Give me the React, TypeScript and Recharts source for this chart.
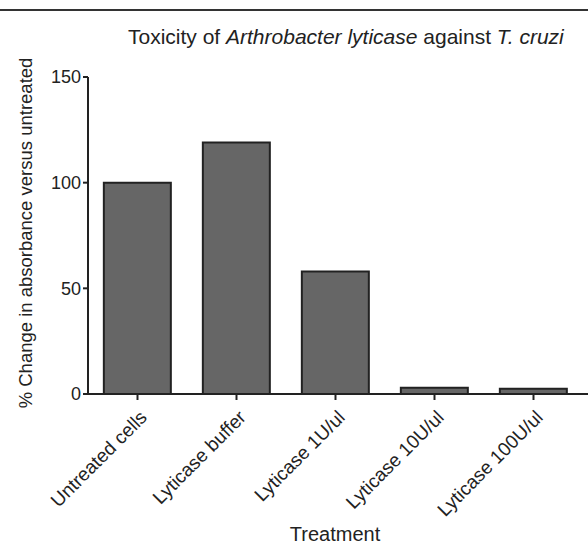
import React from 'react';
import { BarChart, Bar, XAxis, YAxis, Label } from 'recharts';

const treatments = [
  'Untreated cells',
  'Lyticase buffer',
  'Lyticase 1U/ul',
  'Lyticase 10U/ul',
  'Lyticase 100U/ul',
];
const changeValues = [100, 119, 58, 3, 2.5];
const yTicks = [0, 50, 100, 150];

const data = treatments.map((name, i) => ({ name, value: changeValues[i] }));

const FONT = '"Liberation Sans", Arial, Helvetica, sans-serif';
const INK = '#222';

const RotatedTick = (props: any) => {
  const { x, y, payload } = props;
  return (
    <g transform={`translate(${x + 6},${y + 12})`}>
      <text
        transform="rotate(-45)"
        textAnchor="end"
        dominantBaseline="central"
        fontFamily={FONT}
        fontSize={19}
        fill={INK}
      >
        {payload.value}
      </text>
    </g>
  );
};

const App: React.FC = () => {
  return (
    <div style={{ position: 'absolute', left: 0, top: 0, width: 588, height: 544, background: '#fff' }}>
      <div style={{ position: 'absolute', left: 0, top: 9, width: 588, height: 2, background: '#333' }} />
      <svg style={{ position: 'absolute', left: 0, top: 0 }} width={588} height={60}>
        <text x={128} y={44} fontFamily={FONT} fontSize={21} fill={INK}>
          Toxicity of <tspan fontStyle="italic">Arthrobacter lyticase</tspan> against{' '}
          <tspan fontStyle="italic">T. cruzi</tspan>
        </text>
      </svg>
      <BarChart
        width={588}
        height={544}
        data={data}
        margin={{ top: 77, right: 0, bottom: 0, left: 0 }}
        barCategoryGap="16%"
        style={{ position: 'absolute', left: 0, top: 0 }}
      >
        <XAxis
          dataKey="name"
          interval={0}
          padding={{ left: 0, right: 5 }}
          axisLine={{ stroke: INK, strokeWidth: 2 }}
          tickLine={{ stroke: INK, strokeWidth: 2 }}
          tickSize={6}
          tick={<RotatedTick />}
          height={150}
        >
          <Label
            content={() => (
              <text x={335} y={541} textAnchor="middle" fontFamily={FONT} fontSize={20} fill={INK}>
                Treatment
              </text>
            )}
          />
        </XAxis>
        <YAxis
          domain={[0, 150]}
          ticks={yTicks}
          width={88}
          axisLine={{ stroke: INK, strokeWidth: 2 }}
          tickLine={{ stroke: INK, strokeWidth: 2 }}
          tickSize={5}
          tick={{ fontFamily: FONT, fontSize: 18, fill: INK }}
        >
          <Label
            content={() => (
              <text
                x={32}
                y={233}
                transform="rotate(-90, 32, 233)"
                textAnchor="middle"
                fontFamily={FONT}
                fontSize={18.5}
                fill={INK}
              >
                % Change in absorbance versus untreated
              </text>
            )}
          />
        </YAxis>
        <Bar dataKey="value" fill="#666666" stroke={INK} strokeWidth={2} isAnimationActive={false} />
      </BarChart>
    </div>
  );
};

export default App;
